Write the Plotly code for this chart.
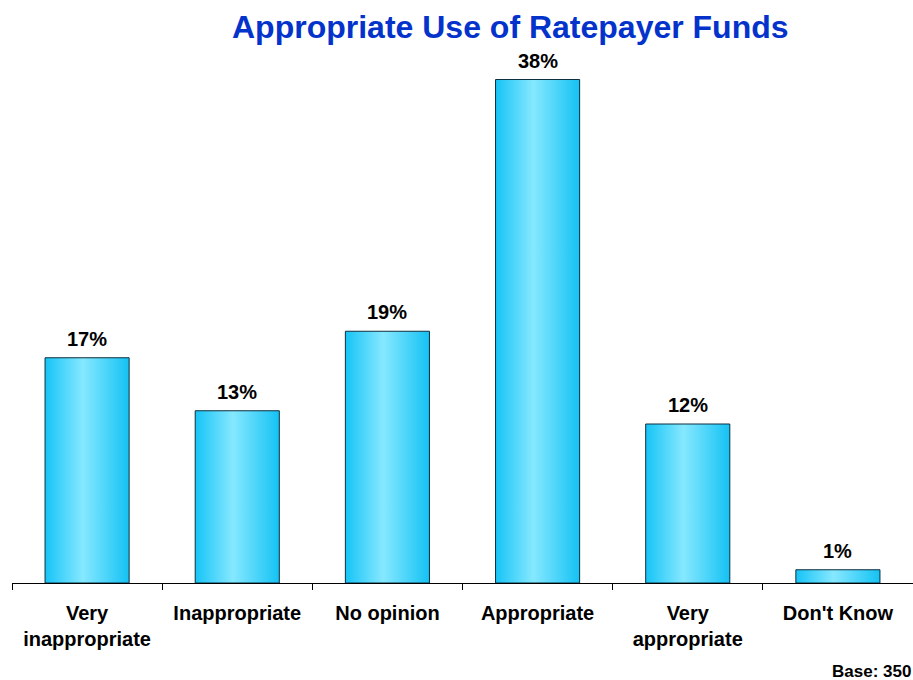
import plotly.graph_objects as go

# Survey responses
categories = ["Very<br>inappropriate", "Inappropriate", "No opinion",
              "Appropriate", "Very<br>appropriate", "Don't Know"]
values = [17, 13, 19, 38, 12, 1]
value_labels = ["17%", "13%", "19%", "38%", "12%", "1%"]

title_text = "Appropriate Use of Ratepayer Funds"
base_note = "Base: 350"

FONT = "Liberation Sans, Arial, sans-serif"
BAR_HALF = 0.28
gradient = [[0.0, "#16C4F6"], [0.45, "#86E8FF"], [1.0, "#14C2F4"]]

W, H = 913, 680
ML, MR, MT, MB = 12, 0, 53, 97
pw, ph = W - ML - MR, H - MT - MB

fig = go.Figure()

# Bars drawn as filled outlines so each can carry a horizontal gradient
for i, v in enumerate(values):
    x0, x1 = i - BAR_HALF, i + BAR_HALF
    fig.add_trace(go.Scatter(
        x=[x0, x1, x1, x0, x0],
        y=[0, 0, v, v, 0],
        mode="lines",
        fill="toself",
        fillgradient=dict(type="horizontal", colorscale=gradient),
        line=dict(color="#0E2F3E", width=1),
        hoverinfo="skip",
        showlegend=False,
    ))
    fig.add_annotation(
        x=i, y=v, text=f"<b>{value_labels[i]}</b>",
        showarrow=False, yanchor="bottom", yshift=6,
        font=dict(family=FONT, size=20, color="#000000"),
    )

# Title, placed in pixel terms and converted to paper units
fig.add_annotation(
    x=(511 - ML) / pw, xref="paper", xanchor="center",
    y=(H - MB - 27) / ph, yref="paper", yanchor="middle",
    text=f"<b>{title_text}</b>", showarrow=False,
    font=dict(family=FONT, size=32, color="#0433CC"),
)
# Sample size note in the bottom-right corner
fig.add_annotation(
    x=1, xref="paper", xanchor="right",
    y=(H - MB - 671) / ph, yref="paper", yanchor="middle",
    text=f"<b>{base_note}</b>", showarrow=False,
    font=dict(family=FONT, size=17, color="#000000"),
)

fig.update_layout(
    width=W, height=H,
    margin=dict(l=ML, r=MR, t=MT, b=MB),
    paper_bgcolor="white", plot_bgcolor="white",
    showlegend=False,
    xaxis=dict(
        range=[-0.5, len(categories) - 0.5],
        tickvals=list(range(len(categories))),
        ticktext=[f"<b>{c}</b>" for c in categories],
        ticks="", showgrid=False, zeroline=False,
        showline=True, linecolor="#000000", linewidth=1,
        ticklabelstandoff=12,
        tickfont=dict(family=FONT, size=20, color="#000000"),
        minor=dict(tickvals=[k - 0.5 for k in range(len(categories) + 1)],
                   ticks="outside", ticklen=6, tickcolor="#000000",
                   tickwidth=1),
        fixedrange=True,
    ),
    yaxis=dict(
        range=[0, 40], visible=False, showgrid=False, zeroline=False,
        fixedrange=True,
    ),
)

fig.write_html("out.html")
